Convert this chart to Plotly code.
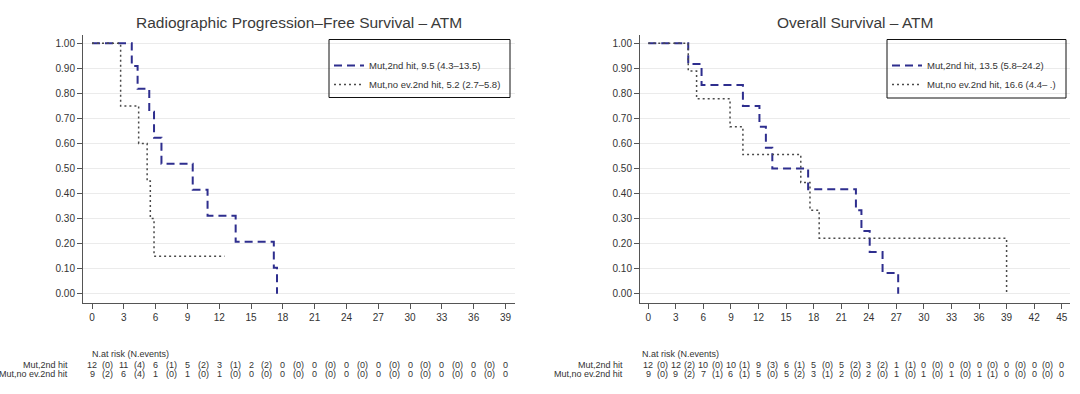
import plotly.graph_objects as go

W, H = 1080, 394

# ---------------- data ----------------
rpfs_mut2_t = [0, 3.75, 4.3, 5.4, 5.85, 6.55, 9.5, 10.9, 13.55, 17.15, 17.45]
rpfs_mut2_s = [1.0, 0.909, 0.818, 0.727, 0.623, 0.519, 0.415, 0.311, 0.208, 0.104, 0.0]
rpfs_noev_t = [0, 2.7, 4.4, 5.2, 5.5, 5.85, 12.5]
rpfs_noev_s = [1.0, 0.75, 0.60, 0.45, 0.30, 0.15, 0.15]

os_mut2_t = [0, 4.35, 5.8, 10.3, 12.1, 12.8, 13.5, 17.4, 22.6, 23.2, 24.1, 25.5, 27.2]
os_mut2_s = [1.0, 0.917, 0.833, 0.75, 0.667, 0.583, 0.5, 0.417, 0.333, 0.25, 0.167, 0.083, 0.0]
os_noev_t = [0, 4.35, 5.26, 8.9, 10.3, 16.6, 17.6, 18.6, 39.0]
os_noev_s = [1.0, 0.889, 0.778, 0.667, 0.556, 0.444, 0.333, 0.222, 0.0]

rpfs_ticks = list(range(0, 40, 3))
os_ticks = list(range(0, 46, 3))

rpfs_risk_mut2 = [12, 11, 6, 5, 3, 2, 0, 0, 0, 0, 0, 0, 0, 0]
rpfs_ev_mut2 = [0, 4, 1, 2, 1, 2, 0, 0, 0, 0, 0, 0, 0]
rpfs_risk_noev = [9, 6, 1, 1, 1, 0, 0, 0, 0, 0, 0, 0, 0, 0]
rpfs_ev_noev = [2, 4, 0, 0, 0, 0, 0, 0, 0, 0, 0, 0, 0]

os_risk_mut2 = [12, 12, 10, 10, 9, 6, 5, 5, 3, 1, 0, 0, 0, 0, 0, 0]
os_ev_mut2 = [0, 2, 0, 1, 3, 1, 0, 2, 2, 1, 0, 0, 0, 0, 0]
os_risk_noev = [9, 9, 7, 6, 5, 5, 3, 2, 2, 1, 1, 1, 1, 0, 0, 0]
os_ev_noev = [0, 2, 1, 1, 0, 2, 1, 0, 0, 0, 0, 0, 1, 0, 0]

group_labels = ["Mut,2nd hit", "Mut,no ev.2nd hit"]
rpfs_legend = ["Mut,2nd hit, 9.5 (4.3\u201313.5)", "Mut,no ev.2nd hit, 5.2 (2.7\u20135.8)"]
os_legend = ["Mut,2nd hit, 13.5 (5.8\u201324.2)", "Mut,no ev.2nd hit, 16.6 (4.4\u2013 .)"]
titles = ["Radiographic Progression\u2013Free Survival \u2013 ATM", "Overall Survival \u2013 ATM"]

# ---------------- styles ----------------
FONT = "Liberation Sans, Arial, sans-serif"
TXT = "#333333"
BLUE = "#2e2e8e"
GRAY = "#4a4a4a"

def px(x):
    return x / W

def py(y):
    return 1 - y / H

fig = go.Figure()

def add_curves(t1, s1, t2, s2, names, xa, ya, leg):
    fig.add_trace(go.Scatter(x=t1, y=s1, mode="lines", line_shape="hv",
                             line=dict(color=BLUE, width=2, dash="8px,5px"),
                             name=names[0], xaxis=xa, yaxis=ya, legend=leg,
                             hoverinfo="skip"))
    fig.add_trace(go.Scatter(x=t2, y=s2, mode="lines", line_shape="hv",
                             line=dict(color=GRAY, width=1.5, dash="2px,3px"),
                             name=names[1], xaxis=xa, yaxis=ya, legend=leg,
                             hoverinfo="skip"))

add_curves(rpfs_mut2_t, rpfs_mut2_s, rpfs_noev_t, rpfs_noev_s, rpfs_legend, "x", "y", "legend")
add_curves(os_mut2_t, os_mut2_s, os_noev_t, os_noev_s, os_legend, "x2", "y2", "legend2")

axis_common = dict(showline=True, linecolor="#555555", linewidth=1, ticks="outside",
                   ticklen=5, tickcolor="#555555", zeroline=False,
                   tickfont=dict(family=FONT, size=10, color=TXT))

yaxis_common = dict(axis_common, range=[-0.037, 1.033], tickvals=[i / 10 for i in range(11)],
                    tickformat=".2f", showgrid=True, gridcolor="#ebebeb", gridwidth=1,
                    domain=[py(303), py(35)])

LEG_FONT = dict(family=FONT, size=9.5, color=TXT)

fig.update_layout(
    width=W, height=H, margin=dict(l=0, r=0, t=0, b=0),
    paper_bgcolor="white", plot_bgcolor="white",
    showlegend=True,
    xaxis=dict(axis_common, domain=[px(83), px(515)], range=[-0.85, 39.9],
               tickvals=rpfs_ticks, showgrid=False, anchor="y"),
    yaxis=dict(yaxis_common, anchor="x"),
    xaxis2=dict(axis_common, domain=[px(640), px(1070)], range=[-0.9, 45.9],
                tickvals=os_ticks, showgrid=False, anchor="y2"),
    yaxis2=dict(yaxis_common, anchor="x2"),
    legend=dict(x=px(329), y=py(51), xanchor="left", yanchor="top",
                bgcolor="rgba(0,0,0,0)", borderwidth=0,
                font=LEG_FONT, tracegroupgap=0),
    legend2=dict(x=px(887), y=py(51), xanchor="left", yanchor="top",
                 bgcolor="rgba(0,0,0,0)", borderwidth=0,
                 font=LEG_FONT, tracegroupgap=0),
)

# legend boxes
for (x0, x1, y0, y1) in [(329, 510, 39.5, 97.5), (887, 1066, 39.5, 98)]:
    fig.add_shape(type="rect", xref="paper", yref="paper",
                  x0=px(x0), x1=px(x1), y0=py(y1), y1=py(y0),
                  line=dict(color="#111111", width=1), fillcolor="rgba(0,0,0,0)")

# titles
for title, cx in zip(titles, [(83 + 515) / 2, (640 + 1070) / 2]):
    fig.add_annotation(text=title, xref="paper", yref="paper", x=px(cx), y=py(22),
                       xanchor="center", yanchor="middle", showarrow=False,
                       font=dict(family=FONT, size=15.5, color="#3a3a3a"))

# risk tables
def risk_table(xa, ticks, risk1, ev1, risk2, ev2, head_x, label_x):
    fnt = dict(family=FONT, size=9, color=TXT)
    fig.add_annotation(text="N.at risk (N.events)", xref="paper", yref="paper",
                       x=px(head_x), y=py(354), xanchor="left", yanchor="middle",
                       showarrow=False, font=fnt)
    for lab, ry in zip(group_labels, [365, 374]):
        fig.add_annotation(text=lab, xref="paper", yref="paper", x=px(label_x), y=py(ry),
                           xanchor="right", yanchor="middle", showarrow=False, font=fnt)
    for risk, ev, ry in [(risk1, ev1, 365), (risk2, ev2, 374)]:
        for i, t in enumerate(ticks):
            fig.add_annotation(text=str(risk[i]), xref=xa, yref="paper", x=t, y=py(ry),
                               xanchor="center", yanchor="middle", showarrow=False, font=fnt)
            if i < len(ev):
                fig.add_annotation(text="(%d)" % ev[i], xref=xa, yref="paper",
                                   x=t + (ticks[1] - ticks[0]) / 2, y=py(ry),
                                   xanchor="center", yanchor="middle", showarrow=False, font=fnt)

risk_table("x", rpfs_ticks, rpfs_risk_mut2, rpfs_ev_mut2, rpfs_risk_noev, rpfs_ev_noev, 90, 70)
risk_table("x2", os_ticks, os_risk_mut2, os_ev_mut2, os_risk_noev, os_ev_noev, 640, 625)

fig.write_html("out.html", config={"displayModeBar": False},
               post_script="document.body.style.margin='0px';")
